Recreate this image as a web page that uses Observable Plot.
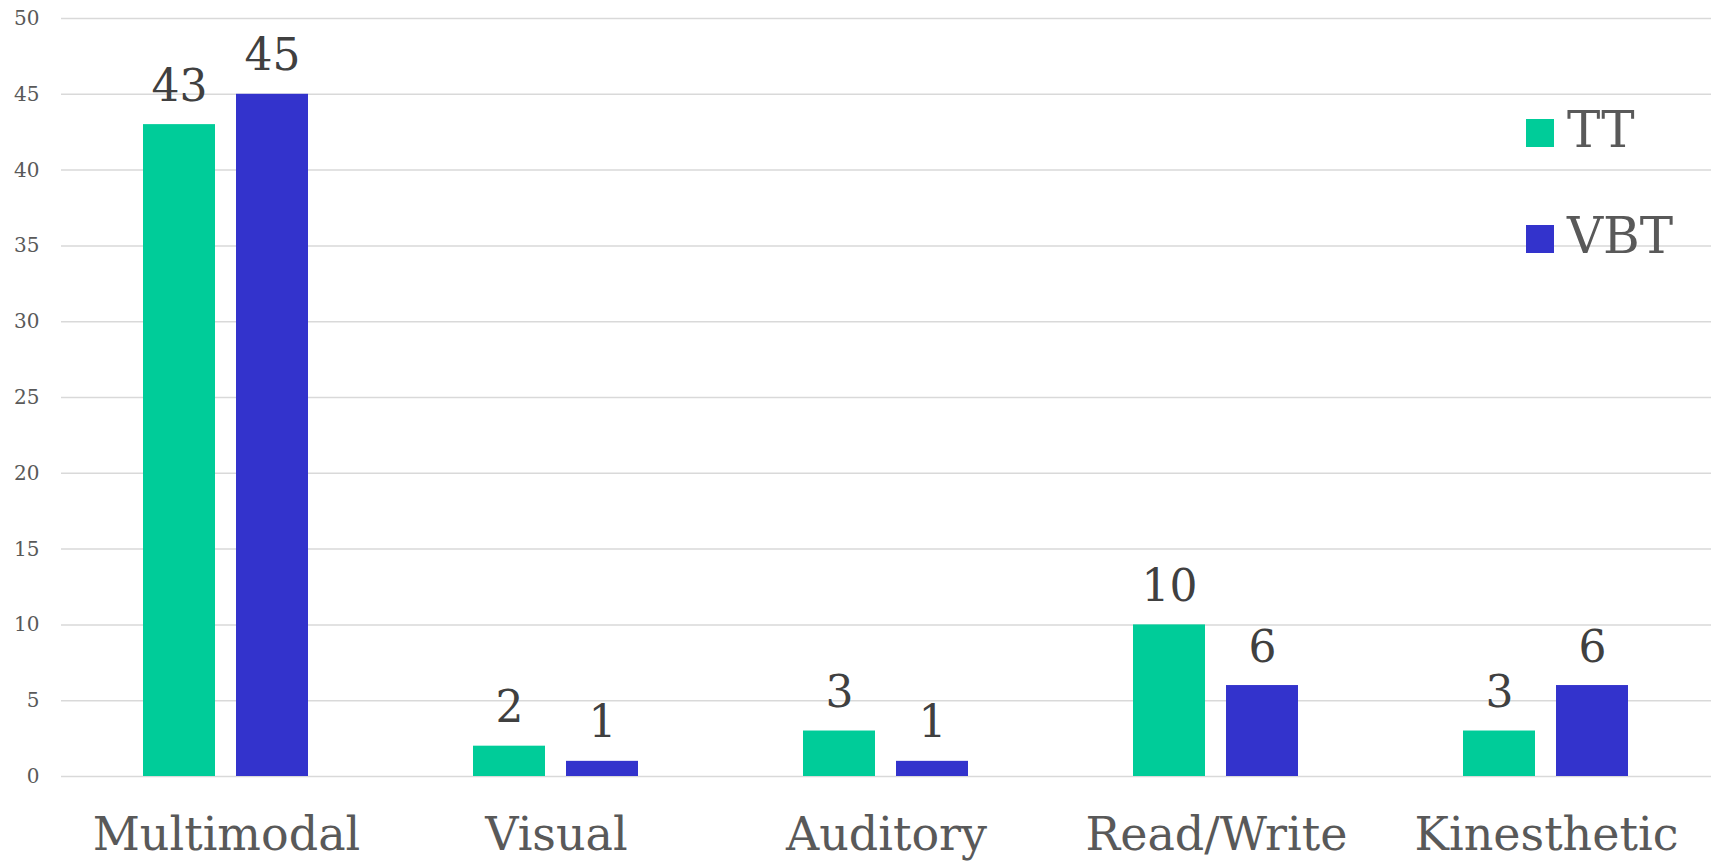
<!DOCTYPE html>
<html>
<head>
<meta charset="utf-8">
<script src="https://cdn.jsdelivr.net/npm/d3@7"></script>
<script src="https://cdn.jsdelivr.net/npm/@observablehq/plot@0.6"></script>
<style>
  html, body { margin: 0; padding: 0; background: #fff; overflow: hidden; }
  #wrap { position: relative; width: 1717px; height: 866px; }
  #legend { position: absolute; left: 1526px; top: 77px; font-family: "DejaVu Serif", serif; font-size: 50px; color: #595959; }
  .item { display: flex; align-items: center; height: 106px; }
  .sw { width: 28px; height: 28px; margin-right: 13px; margin-top: 6px; }
</style>
</head>
<body>
<div id="wrap"></div>
<script>
const categories = ["Multimodal", "Visual", "Auditory", "Read/Write", "Kinesthetic"];
const series = ["TT", "VBT"];
const ttValues = [43, 2, 3, 10, 3];
const vbtValues = [45, 1, 1, 6, 6];
const colors = ["#00CC99", "#3333CC"];
const yTicks = [0, 5, 10, 15, 20, 25, 30, 35, 40, 45, 50];

const data = [];
categories.forEach((c, i) => {
  data.push({category: c, series: "TT", value: ttValues[i]});
  data.push({category: c, series: "VBT", value: vbtValues[i]});
});

const font = '"DejaVu Serif", serif';

const chart = Plot.plot({
  width: 1717,
  height: 866,
  marginTop: 18,
  marginBottom: 90,
  marginLeft: 59,
  marginRight: 4,
  style: {fontFamily: font, background: "#fff"},
  fx: {domain: categories, padding: 0, label: null},
  x: {domain: series, paddingInner: 0.223, paddingOuter: 0.871, axis: null},
  y: {domain: [0, 50], ticks: yTicks, label: null},
  color: {domain: series, range: colors},
  marks: [
    Plot.ruleY(yTicks, {stroke: "#d9d9d9", strokeWidth: 1.5}),
    Plot.axisY({ticks: yTicks, tickSize: 0, tickPadding: 22, fontSize: 20, fill: "#595959", label: null}),
    Plot.axisFx({anchor: "bottom", tickSize: 0, tickPadding: 41, fontSize: 46, fill: "#595959", label: null}),
    Plot.barY(data, {fx: "category", x: "series", y: "value", fill: "series"}),
    Plot.text(data, {fx: "category", x: "series", y: "value", text: d => String(d.value), lineAnchor: "bottom", dy: -24, fontSize: 44, fill: "#404040"})
  ]
});

document.getElementById("wrap").appendChild(chart);

const legend = document.createElement("div");
legend.id = "legend";
series.forEach((s, i) => {
  const item = document.createElement("div");
  item.className = "item";
  const sw = document.createElement("div");
  sw.className = "sw";
  sw.style.background = colors[i];
  const label = document.createElement("span");
  label.textContent = s;
  item.appendChild(sw);
  item.appendChild(label);
  legend.appendChild(item);
});
document.getElementById("wrap").appendChild(legend);
</script>
</body>
</html>
